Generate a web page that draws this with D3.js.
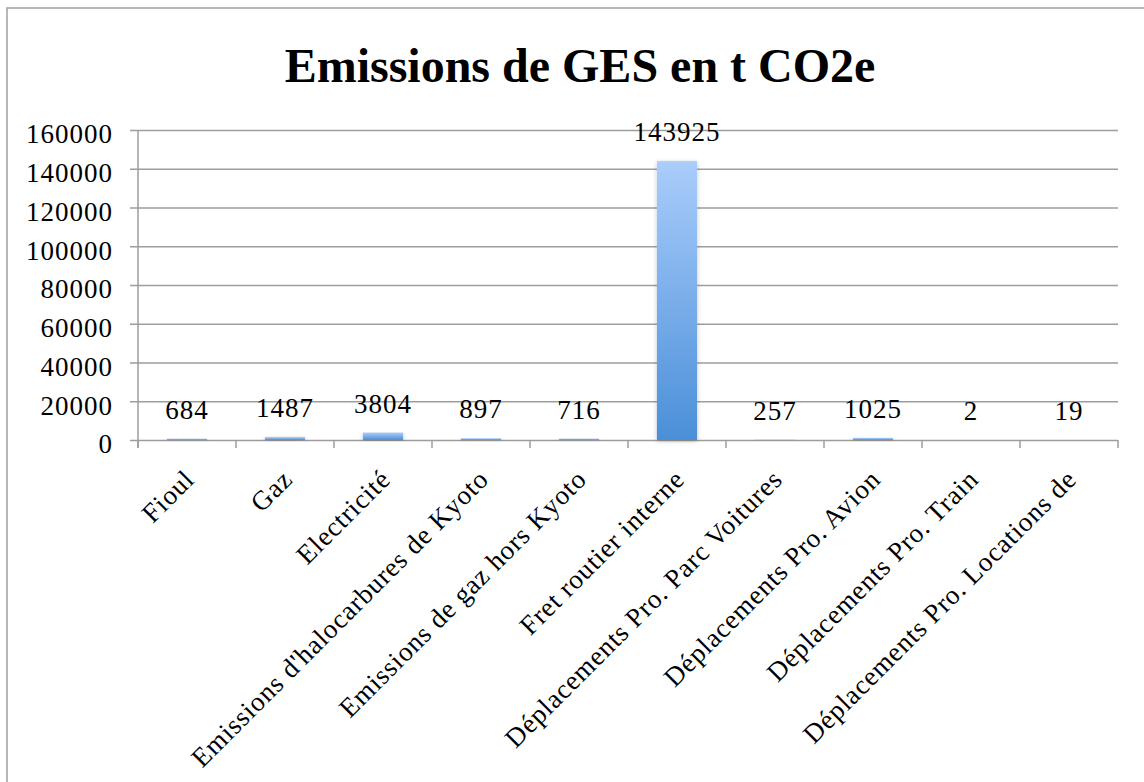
<!DOCTYPE html>
<html>
<head>
<meta charset="utf-8">
<script src="https://cdn.jsdelivr.net/npm/d3@7"></script>
<style>
  html, body { margin: 0; padding: 0; background: #fff; }
  svg { display: block; }
  text { font-family: "Liberation Serif", "Times New Roman", serif; fill: #000; }
</style>
</head>
<body>
<svg id="chart" width="1144" height="782"></svg>
<script>
const categories = [
  "Fioul",
  "Gaz",
  "Electricité",
  "Emissions d'halocarbures de Kyoto",
  "Emissions de gaz hors Kyoto",
  "Fret routier interne",
  "Déplacements Pro. Parc Voitures",
  "Déplacements Pro. Avion",
  "Déplacements Pro. Train",
  "Déplacements Pro. Locations de"
];
const values = [684, 1487, 3804, 897, 716, 143925, 257, 1025, 2, 19];
const yTicks = [0, 20000, 40000, 60000, 80000, 100000, 120000, 140000, 160000];
const title = "Emissions de GES en t CO2e";

const svg = d3.select("#chart");
const margin = { left: 138, right: 1118, top: 130, bottom: 440 };

const defs = svg.append("defs");
const grad = defs.append("linearGradient")
  .attr("id", "barGrad").attr("x1", 0).attr("y1", 0).attr("x2", 0).attr("y2", 1);
grad.append("stop").attr("offset", "0%").attr("stop-color", "#aacdfc");
grad.append("stop").attr("offset", "100%").attr("stop-color", "#4a8fd8");
const filt = defs.append("filter").attr("id", "shadow")
  .attr("x", "-30%").attr("y", "-5%").attr("width", "160%").attr("height", "115%");
filt.append("feDropShadow").attr("dx", 0).attr("dy", 1).attr("stdDeviation", 2)
  .attr("flood-color", "#000").attr("flood-opacity", 0.25);

// outer frame
svg.append("rect")
  .attr("x", 7).attr("y", 8).attr("width", 1160).attr("height", 800)
  .attr("fill", "none").attr("stroke", "#a0a0a0").attr("stroke-width", 1.5);

// title
svg.append("text")
  .attr("x", 580).attr("y", 82)
  .attr("text-anchor", "middle")
  .style("font-weight", "bold").style("font-size", "48px")
  .text(title);

const x = d3.scaleBand().domain(categories)
  .range([margin.left, margin.right])
  .paddingInner(0.59).paddingOuter(0.295);
const y = d3.scaleLinear().domain([0, 160000]).range([margin.bottom, margin.top]);

// gridlines + y ticks
const yAxis = d3.axisLeft(y).tickValues(yTicks)
  .tickSize(-(margin.right - margin.left)).tickSizeOuter(0).tickPadding(25)
  .tickFormat(d3.format("d"));
const gy = svg.append("g").attr("transform", `translate(${margin.left},0)`).call(yAxis);
gy.select(".domain").remove();
gy.selectAll(".tick line").attr("stroke", "#9d9d9d").attr("stroke-width", 1.5)
  .attr("x1", -8);
gy.selectAll(".tick text").style("font-size", "27px").style("letter-spacing", "1px")
  .attr("dy", "0.38em").attr("y", 2.5);

// y axis vertical line
svg.append("line")
  .attr("x1", margin.left).attr("x2", margin.left)
  .attr("y1", margin.top).attr("y2", margin.bottom + 8)
  .attr("stroke", "#9d9d9d").attr("stroke-width", 1.5);

// category tick marks
const step = x.step();
const boundaries = d3.range(categories.length + 1).map(i => margin.left + i * step);
svg.append("g").selectAll("line").data(boundaries).join("line")
  .attr("x1", d => d).attr("x2", d => d)
  .attr("y1", margin.bottom).attr("y2", margin.bottom + 8)
  .attr("stroke", "#9d9d9d").attr("stroke-width", 1.5);

// bars
svg.append("g").selectAll("rect").data(values).join("rect")
  .attr("x", (d, i) => x(categories[i]))
  .attr("width", x.bandwidth())
  .attr("y", d => y(d))
  .attr("height", d => y(0) - y(d))
  .attr("fill", "url(#barGrad)")
  .attr("filter", "url(#shadow)");

// value labels
svg.append("g").selectAll("text").data(values).join("text")
  .attr("x", (d, i) => x(categories[i]) + x.bandwidth() / 2)
  .attr("y", d => y(d) - 20)
  .attr("text-anchor", "middle")
  .style("font-size", "27px").style("letter-spacing", "1px")
  .text(d => d);

// category labels
svg.append("g").selectAll("text").data(categories).join("text")
  .attr("transform", d => `translate(${x(d) + x.bandwidth() / 2 + 9},${481}) rotate(-45)`)
  .attr("text-anchor", "end")
  .style("font-size", "27px").style("letter-spacing", "0.8px")
  .text(d => d);
</script>
</body>
</html>
